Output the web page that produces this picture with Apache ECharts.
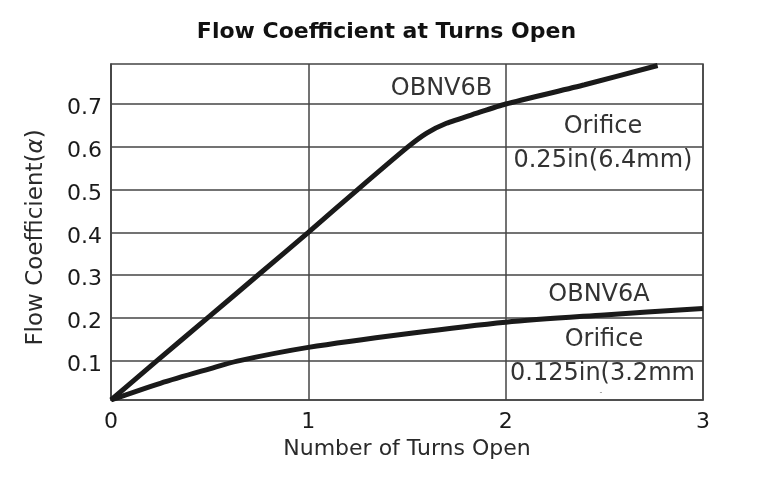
<!DOCTYPE html>
<html>
<head>
<meta charset="utf-8">
<script src="https://cdn.jsdelivr.net/npm/echarts@6/dist/echarts.min.js"></script>
<style>
html,body{margin:0;padding:0;background:#fff;}
#chart{width:773px;height:481px;}
</style>
</head>
<body>
<div id="chart"></div>
<script>
// ---- data ----
var xTicks = [0, 1, 2, 3];
var yTicks = [0.1, 0.2, 0.3, 0.4, 0.5, 0.6, 0.7];
var obnv6b = [[0, 0.008], [0.22, 0.095], [0.5, 0.204], [0.75, 0.302], [1, 0.4], [1.25, 0.5], [1.5, 0.598], [1.6, 0.632], [1.7, 0.655], [1.85, 0.678], [2, 0.7], [2.4, 0.745], [2.77, 0.79]];
var obnv6a = [[0, 0.008], [0.25, 0.047], [0.5, 0.081], [0.64, 0.099], [1, 0.131], [1.5, 0.163], [2, 0.19], [2.5, 0.207], [3, 0.222]];
var annoText = ['OBNV6B', 'Orifice', '0.25in(6.4mm)', 'OBNV6A', 'Orifice', '0.125in(3.2mm', '-'];
var annoX = [1.675, 2.493, 2.493, 2.473, 2.498, 2.022, 2.483];
var annoY = [0.735, 0.647, 0.567, 0.253, 0.150, 0.069, 0.0245];
var annoAlign = ['center', 'center', 'center', 'center', 'center', 'left', 'center'];

var FONT = '"DejaVu Sans", Verdana, sans-serif';
var chart = echarts.init(document.getElementById('chart'));

var markPts = annoText.map(function (t, i) {
  return {
    coord: [annoX[i], annoY[i]],
    value: t,
    label: {
      show: true, position: 'inside', formatter: t, align: annoAlign[i], verticalAlign: 'middle',
      fontFamily: FONT, fontSize: t === '-' ? 8 : 24, color: t === '-' ? '#888' : '#333'
    }
  };
});

var option = {
  backgroundColor: '#fff',
  animation: false,
  title: {
    text: 'Flow Coefficient at Turns Open',
    left: 'center', top: 16,
    textStyle: { fontFamily: FONT, fontSize: 22, fontWeight: 'bold', color: '#111' }
  },
  grid: { left: 111, right: 70, top: 64, bottom: 81, show: true, borderColor: '#444', borderWidth: 1.5, containLabel: false },
  xAxis: {
    type: 'value', min: 0, max: 3, interval: 1,
    name: 'Number of Turns Open', nameLocation: 'middle', nameGap: 36,
    nameTextStyle: { fontFamily: FONT, fontSize: 22, color: '#2a2a2a' },
    axisLine: { show: true, lineStyle: { color: '#444', width: 1.5 } },
    axisTick: { show: false },
    axisLabel: { fontFamily: FONT, fontSize: 22, color: '#1a1a1a', margin: 11, formatter: function (v) { return xTicks.indexOf(v) >= 0 ? String(v) : ''; } },
    splitLine: { show: true, lineStyle: { color: '#444', width: 1.5 } }
  },
  yAxis: {
    type: 'value', min: 0.008, max: 0.7936,
    name: '{a|Flow Coefficient(}{b|α}{a|)}', nameLocation: 'middle', nameGap: 63,
    nameTextStyle: {
      padding: [0, 11, 0, 0],
      rich: {
        a: { fontFamily: FONT, fontSize: 23, color: '#2a2a2a' },
        b: { fontFamily: FONT, fontSize: 23, color: '#2a2a2a', fontStyle: 'italic' }
      }
    },
    axisLine: { show: true, lineStyle: { color: '#444', width: 1.5 } },
    axisTick: { show: false },
    axisLabel: {
      customValues: yTicks,
      margin: 9,
      formatter: function (v) { return '{t|' + v.toFixed(1) + '}'; },
      rich: { t: { fontFamily: FONT, fontSize: 22, color: '#1a1a1a', padding: [9, 0, 0, 0] } }
    },
    splitLine: { show: false }
  },
  series: [
    {
      name: 'OBNV6B', type: 'line', data: obnv6b, smooth: 0.2, showSymbol: false,
      lineStyle: { color: '#1a1a1a', width: 5 }, z: 5,
      markLine: {
        silent: true, symbol: 'none', label: { show: false },
        lineStyle: { color: '#444', width: 1.5, type: 'solid' },
        data: yTicks.map(function (v) { return { yAxis: v }; })
      }
    },
    {
      name: 'OBNV6A', type: 'line', data: obnv6a, smooth: 0.3, showSymbol: false,
      lineStyle: { color: '#1a1a1a', width: 5 }, z: 5,
      markPoint: { symbol: 'circle', symbolSize: 0, silent: true, data: markPts }
    }
  ]
};
chart.setOption(option);
</script>
</body>
</html>
